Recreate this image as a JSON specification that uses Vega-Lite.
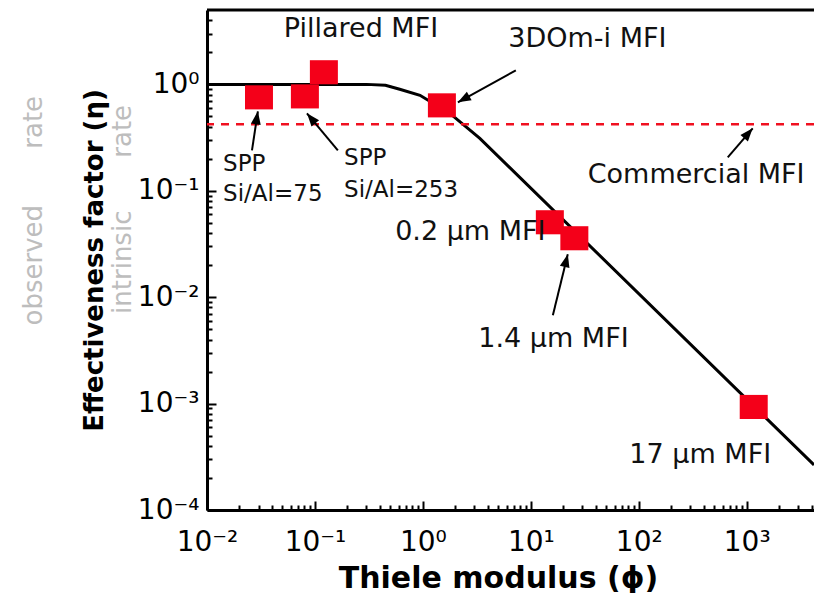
{
  "$schema": "https://vega.github.io/schema/vega-lite/v6.json",
  "width": 607,
  "height": 500,
  "autosize": {"type": "none"},
  "padding": {"left": 207, "top": 10, "right": 0, "bottom": 83},
  "background": "white",
  "config": {"view": {"stroke": null}, "font": "DejaVu Sans"},
  "resolve": {"axis": {"x": "independent", "y": "independent"}},
  "datasets": {
    "pts": [
      {"name": "SPP Si/Al=75", "x": 0.0303, "y": 0.755},
      {"name": "SPP Si/Al=253", "x": 0.0807, "y": 0.771},
      {"name": "Pillared MFI", "x": 0.121, "y": 1.30},
      {"name": "3DOm-i MFI", "x": 1.50, "y": 0.635},
      {"name": "0.2 um MFI", "x": 15.0, "y": 0.0506},
      {"name": "1.4 um MFI", "x": 25.3, "y": 0.0358},
      {"name": "17 um MFI", "x": 1161, "y": 0.00093}
    ],
    "curve": [
      {"x": 0.01, "y": 1},
      {"x": 0.3, "y": 1},
      {"x": 0.45, "y": 0.98},
      {"x": 0.61, "y": 0.9},
      {"x": 0.94, "y": 0.79},
      {"x": 1.78, "y": 0.534},
      {"x": 3.37, "y": 0.311},
      {"x": 4200, "y": 0.000265}
    ],
    "arrows": [
      {"a": "spp75", "x": 0.0261, "y": 0.240, "x2": 0.0296, "y2": 0.558},
      {"a": "spp253", "x": 0.163, "y": 0.240, "x2": 0.0843, "y2": 0.534},
      {"a": "3dom", "x": 7.26, "y": 1.353, "x2": 2.11, "y2": 0.678},
      {"a": "comm", "x": 667, "y": 0.206, "x2": 1136, "y2": 0.386},
      {"a": "m14", "x": 16.0, "y": 0.00678, "x2": 22.0, "y2": 0.0253}
    ],
    "labels": [
      {"text": "Pillared MFI", "x": 0.267, "y": 2.76},
      {"text": "3DOm-i MFI", "x": 33.4, "y": 2.23},
      {"text": "Commercial MFI", "x": 340, "y": 0.1175},
      {"text": "0.2 µm MFI", "x": 2.75, "y": 0.0343},
      {"text": "1.4 µm MFI", "x": 16.2, "y": 0.0034},
      {"text": "17 µm MFI", "x": 371, "y": 0.000276}
    ],
    "spp": [
      {"text": "SPP", "x": 0.0141, "y": 0.152},
      {"text": "Si/Al=75", "x": 0.0141, "y": 0.0797},
      {"text": "SPP", "x": 0.186, "y": 0.173},
      {"text": "Si/Al=253", "x": 0.186, "y": 0.0869}
    ],
    "ghost": [
      {"text": "observed", "x": 0.00025, "y": 0.020},
      {"text": "rate", "x": 0.00025, "y": 0.44},
      {"text": "intrinsic", "x": 0.00167, "y": 0.0213},
      {"text": "rate", "x": 0.00167, "y": 0.362}
    ],
    "refs": [
      {"name": "frame", "y": 5},
      {"name": "Commercial MFI", "y": 0.421}
    ]
  },
  "layer": [
    {
      "data": {"name": "curve"},
      "mark": {"type": "line", "color": "black", "strokeWidth": 3, "clip": true},
      "encoding": {
        "x": {
          "field": "x", "type": "quantitative",
          "scale": {"type": "log", "domain": [0.01, 4200], "nice": false},
          "axis": {
            "orient": "bottom",
            "values": [0.01, 0.1, 1, 10, 100, 1000],
            "labelExpr": "datum.value == 0.01 ? '10⁻²' : datum.value == 0.1 ? '10⁻¹' : datum.value == 1 ? '10⁰' : datum.value == 10 ? '10¹' : datum.value == 100 ? '10²' : datum.value == 1000 ? '10³' : ''",
            "tickSize": -9, "tickWidth": 2, "tickColor": "black",
            "domain": true, "domainWidth": 3, "domainColor": "black",
            "grid": false,
            "labelFont": "DejaVu Sans", "labelFontSize": 28, "labelColor": "black",
            "labelPadding": 27, "labelFlush": false, "labelOverlap": false, "labelBound": false,
            "title": "Thiele modulus (ϕ)",
            "titleFont": "DejaVu Sans", "titleFontSize": 30, "titleFontWeight": "bold", "titleColor": "black",
            "titlePadding": 7, "titleX": 291, "titleAlign": "center", "titleAnchor": null
          }
        },
        "y": {
          "field": "y", "type": "quantitative",
          "scale": {"type": "log", "domain": [0.0001, 5], "nice": false},
          "axis": {
            "orient": "left",
            "values": [0.0001, 0.001, 0.01, 0.1, 1],
            "labelExpr": "datum.value == 0.0001 ? '10⁻⁴' : datum.value == 0.001 ? '10⁻³' : datum.value == 0.01 ? '10⁻²' : datum.value == 0.1 ? '10⁻¹' : datum.value == 1 ? '10⁰' : ''",
            "tickSize": -9, "tickWidth": 2, "tickColor": "black",
            "domain": true, "domainWidth": 3, "domainColor": "black",
            "grid": false,
            "labelFont": "DejaVu Sans", "labelFontSize": 28, "labelColor": "black",
            "labelPadding": 17, "labelFlush": false, "labelOverlap": false, "labelBound": false,
            "title": "Effectiveness factor (η)",
            "titleFont": "DejaVu Sans", "titleFontSize": 26, "titleFontWeight": "bold", "titleColor": "black",
            "titlePadding": 30
          }
        }
      }
    },
    {
      "data": {"name": "pts"},
      "mark": {"type": "point", "filled": true, "opacity": 1, "color": "#f40019", "shape": "M-1,-0.86L1,-0.86L1,0.86L-1,0.86Z", "size": 784},
      "encoding": {
        "x": {
          "field": "x", "type": "quantitative",
          "scale": {"type": "log", "domain": [0.01, 4200], "nice": false},
          "axis": {
            "orient": "bottom",
            "values": [0.02,0.03,0.04,0.05,0.06,0.07,0.08,0.09,0.2,0.3,0.4,0.5,0.6,0.7,0.8,0.9,2,3,4,5,6,7,8,9,20,30,40,50,60,70,80,90,200,300,400,500,600,700,800,900,2000,3000,4000],
            "labels": false, "domain": false, "grid": false, "title": null,
            "tickSize": -5, "tickWidth": 2, "tickColor": "black"
          }
        },
        "y": {
          "field": "y", "type": "quantitative",
          "scale": {"type": "log", "domain": [0.0001, 5], "nice": false},
          "axis": {
            "orient": "left",
            "values": [0.0002,0.0003,0.0004,0.0005,0.0006,0.0007,0.0008,0.0009,0.002,0.003,0.004,0.005,0.006,0.007,0.008,0.009,0.02,0.03,0.04,0.05,0.06,0.07,0.08,0.09,0.2,0.3,0.4,0.5,0.6,0.7,0.8,0.9,2,3,4],
            "labels": false, "domain": false, "grid": false, "title": null,
            "tickSize": -5, "tickWidth": 2, "tickColor": "black"
          }
        }
      }
    },
    {
      "data": {"name": "refs"},
      "transform": [{"filter": "datum.name == 'frame'"}],
      "mark": {"type": "rule", "color": "black", "strokeWidth": 3},
      "encoding": {
        "y": {"field": "y", "type": "quantitative", "scale": {"type": "log", "domain": [0.0001, 5], "nice": false}, "axis": null}
      }
    },
    {
      "data": {"name": "refs"},
      "transform": [{"filter": "datum.name == 'Commercial MFI'"}],
      "mark": {"type": "rule", "color": "#f01020", "strokeWidth": 2.5, "strokeDash": [8, 7]},
      "encoding": {
        "y": {"field": "y", "type": "quantitative", "scale": {"type": "log", "domain": [0.0001, 5], "nice": false}, "axis": null}
      }
    },
    {
      "data": {"name": "arrows"},
      "mark": {"type": "rule", "color": "black", "strokeWidth": 2},
      "encoding": {
        "x": {"field": "x", "type": "quantitative", "scale": {"type": "log", "domain": [0.01, 4200], "nice": false}, "axis": null},
        "y": {"field": "y", "type": "quantitative", "scale": {"type": "log", "domain": [0.0001, 5], "nice": false}, "axis": null},
        "x2": {"field": "x2"},
        "y2": {"field": "y2"}
      }
    },
    {
      "data": {"name": "arrows"},
      "transform": [{"filter": "datum.a == 'spp75'"}],
      "mark": {"type": "point", "filled": true, "opacity": 1, "color": "black", "shape": "M0,0L0.38,1L-0.38,1Z", "size": 676, "angle": 9},
      "encoding": {
        "x": {"field": "x2", "type": "quantitative", "scale": {"type": "log", "domain": [0.01, 4200], "nice": false}, "axis": null},
        "y": {"field": "y2", "type": "quantitative", "scale": {"type": "log", "domain": [0.0001, 5], "nice": false}, "axis": null}
      }
    },
    {
      "data": {"name": "arrows"},
      "transform": [{"filter": "datum.a == 'spp253'"}],
      "mark": {"type": "point", "filled": true, "opacity": 1, "color": "black", "shape": "M0,0L0.38,1L-0.38,1Z", "size": 676, "angle": 320},
      "encoding": {
        "x": {"field": "x2", "type": "quantitative", "scale": {"type": "log", "domain": [0.01, 4200], "nice": false}, "axis": null},
        "y": {"field": "y2", "type": "quantitative", "scale": {"type": "log", "domain": [0.0001, 5], "nice": false}, "axis": null}
      }
    },
    {
      "data": {"name": "arrows"},
      "transform": [{"filter": "datum.a == '3dom'"}],
      "mark": {"type": "point", "filled": true, "opacity": 1, "color": "black", "shape": "M0,0L0.38,1L-0.38,1Z", "size": 676, "angle": 241},
      "encoding": {
        "x": {"field": "x2", "type": "quantitative", "scale": {"type": "log", "domain": [0.01, 4200], "nice": false}, "axis": null},
        "y": {"field": "y2", "type": "quantitative", "scale": {"type": "log", "domain": [0.0001, 5], "nice": false}, "axis": null}
      }
    },
    {
      "data": {"name": "arrows"},
      "transform": [{"filter": "datum.a == 'comm'"}],
      "mark": {"type": "point", "filled": true, "opacity": 1, "color": "black", "shape": "M0,0L0.38,1L-0.38,1Z", "size": 676, "angle": 41},
      "encoding": {
        "x": {"field": "x2", "type": "quantitative", "scale": {"type": "log", "domain": [0.01, 4200], "nice": false}, "axis": null},
        "y": {"field": "y2", "type": "quantitative", "scale": {"type": "log", "domain": [0.0001, 5], "nice": false}, "axis": null}
      }
    },
    {
      "data": {"name": "arrows"},
      "transform": [{"filter": "datum.a == 'm14'"}],
      "mark": {"type": "point", "filled": true, "opacity": 1, "color": "black", "shape": "M0,0L0.38,1L-0.38,1Z", "size": 676, "angle": 14},
      "encoding": {
        "x": {"field": "x2", "type": "quantitative", "scale": {"type": "log", "domain": [0.01, 4200], "nice": false}, "axis": null},
        "y": {"field": "y2", "type": "quantitative", "scale": {"type": "log", "domain": [0.0001, 5], "nice": false}, "axis": null}
      }
    },
    {
      "data": {"name": "labels"},
      "mark": {"type": "text", "font": "DejaVu Sans", "fontSize": 27, "color": "#111", "align": "center", "baseline": "alphabetic"},
      "encoding": {
        "x": {"field": "x", "type": "quantitative", "scale": {"type": "log", "domain": [0.01, 4200], "nice": false}, "axis": null},
        "y": {"field": "y", "type": "quantitative", "scale": {"type": "log", "domain": [0.0001, 5], "nice": false}, "axis": null},
        "text": {"field": "text"}
      }
    },
    {
      "data": {"name": "spp"},
      "mark": {"type": "text", "font": "DejaVu Sans", "fontSize": 23, "color": "#111", "align": "left", "baseline": "alphabetic"},
      "encoding": {
        "x": {"field": "x", "type": "quantitative", "scale": {"type": "log", "domain": [0.01, 4200], "nice": false}, "axis": null},
        "y": {"field": "y", "type": "quantitative", "scale": {"type": "log", "domain": [0.0001, 5], "nice": false}, "axis": null},
        "text": {"field": "text"}
      }
    },
    {
      "data": {"name": "ghost"},
      "mark": {"type": "text", "font": "DejaVu Sans", "fontSize": 26, "color": "#bdbdbd", "align": "center", "baseline": "middle", "angle": 270},
      "encoding": {
        "x": {"field": "x", "type": "quantitative", "scale": {"type": "log", "domain": [0.01, 4200], "nice": false}, "axis": null},
        "y": {"field": "y", "type": "quantitative", "scale": {"type": "log", "domain": [0.0001, 5], "nice": false}, "axis": null},
        "text": {"field": "text"}
      }
    }
  ]
}
